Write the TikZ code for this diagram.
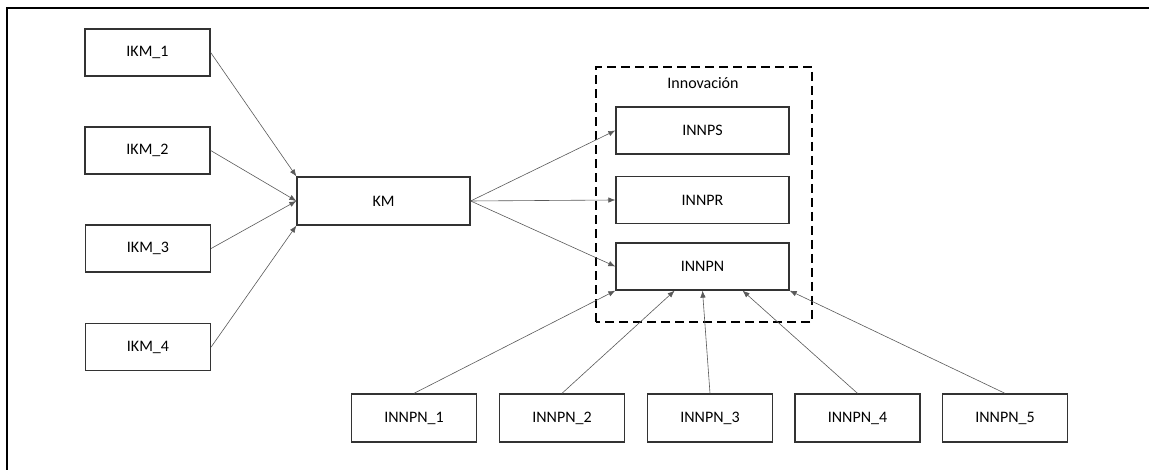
\documentclass[tikz,border=0pt]{standalone}
\usepackage{fontspec}
\setmainfont{Carlito}
\usetikzlibrary{arrows.meta,calc}
\tikzset{
  caja/.style={draw=black!80, line width=1.3pt, fill=white, minimum width=125pt, minimum height=47pt, inner sep=0pt, font=\fontsize{16}{18}\selectfont},
  cajaancha/.style={caja, minimum width=173pt},
  flecha/.style={draw=black!65, line width=0.6pt, -{Latex[length=7pt,width=5.5pt]}},
}
\begin{document}
\begin{tikzpicture}[x=1pt,y=1pt]
	\useasboundingbox (0,0) rectangle (1149,470);
	\draw[line width=2pt] (6.5,0) -- (6.5,461.5) -- (1149,461.5);
	% grupo de innovacion
	\draw[line width=1.4pt, dash pattern=on 9pt off 5pt] (596,148) rectangle (812,403);
	\node[font=\fontsize{16}{18}\selectfont] (innov) at (703,387) {Innovación};
	\node[caja] (ikm1) at (147.5,417.5) {IKM\_1};
	\node[caja] (ikm2) at (147.5,319.5) {IKM\_2};
	\node[caja] (ikm3) at (148,221.5) {IKM\_3};
	\node[caja] (ikm4) at (148,123) {IKM\_4};
	\node[cajaancha, minimum height=48pt] (km) at (383.5,269) {KM};
	\node[cajaancha] (innps) at (702.5,339.5) {INNPS};
	\node[cajaancha] (innpr) at (702.5,270) {INNPR};
	\node[cajaancha] (innpn) at (702.5,203.5) {INNPN};
	\node[caja, minimum height=48pt] (innpn1) at (414,52) {INNPN\_1};
	\node[caja, minimum height=48pt] (innpn2) at (562,52) {INNPN\_2};
	\node[caja, minimum height=48pt] (innpn3) at (710,52) {INNPN\_3};
	\node[caja, minimum height=48pt] (innpn4) at (857.5,52) {INNPN\_4};
	\node[caja, minimum height=48pt] (innpn5) at (1005,52) {INNPN\_5};
	% flechas hacia KM
	\draw[flecha] (ikm1.east) -- (km.north west);
	\draw[flecha] (ikm2.east) -- (km.west);
	\draw[flecha] (ikm3.east) -- (km.west);
	\draw[flecha] (ikm4.east) -- (km.south west);
	% flechas desde KM
	\draw[flecha] (km.east) -- (innps.west);
	\draw[flecha] (km.east) -- (innpr.west);
	\draw[flecha] (km.east) -- (innpn.west);
	% flechas hacia INNPN
	\draw[flecha] (innpn1.north) -- (innpn.south west);
	\draw[flecha] (innpn2.north) -- ($(innpn.south west)!0.34!(innpn.south east)$);
	\draw[flecha] (innpn3.north) -- ($(innpn.south west)!0.5!(innpn.south east)$);
	\draw[flecha] (innpn4.north) -- ($(innpn.south west)!0.73!(innpn.south east)$);
	\draw[flecha] (innpn5.north) -- (innpn.south east);
\end{tikzpicture}
\end{document}
